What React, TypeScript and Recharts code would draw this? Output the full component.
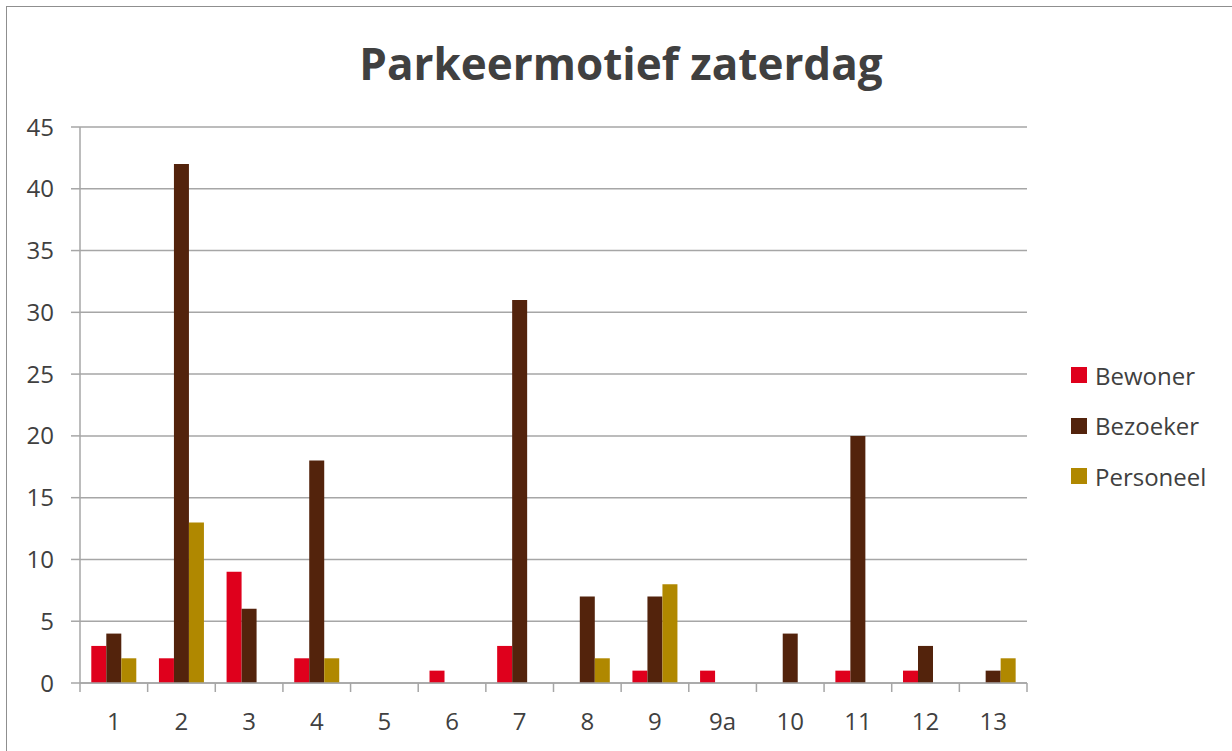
import React from 'react';
import { BarChart, Bar, XAxis, YAxis, CartesianGrid } from 'recharts';

const categories = ['1', '2', '3', '4', '5', '6', '7', '8', '9', '9a', '10', '11', '12', '13'];
const bewoner = [3, 2, 9, 2, 0, 1, 3, 0, 1, 1, 0, 1, 1, 0];
const bezoeker = [4, 42, 6, 18, 0, 0, 31, 7, 7, 0, 4, 20, 3, 1];
const personeel = [2, 13, 0, 2, 0, 0, 0, 2, 8, 0, 0, 0, 0, 2];
const yTicks = [0, 5, 10, 15, 20, 25, 30, 35, 40, 45];
const seriesNames = ['Bewoner', 'Bezoeker', 'Personeel'];
const seriesColors = ['#DF001C', '#53230C', '#B08800'];

const data = categories.map((c, i) => ({
  cat: c,
  Bewoner: bewoner[i],
  Bezoeker: bezoeker[i],
  Personeel: personeel[i],
}));

const W = 1232;
const H = 751;
const MARGIN = { top: 127, right: 205, bottom: 28, left: 0 };
const Y_AXIS_W = 80;
const X_AXIS_H = 40;
const FONT = '"Open Sans", "Noto Sans", sans-serif';
const TEXT = '#404040';
const GRID = '#a6a6a6';
const N = categories.length;
const FALLBACK_HALF_BAND = (W - MARGIN.left - MARGIN.right - Y_AXIS_W) / N / 2;

const XTick = (props: any) => {
  const { x, y, payload, index } = props;
  const half = payload && payload.offset ? payload.offset : FALLBACK_HALF_BAND;
  return (
    <g>
      <line x1={x - half} y1={y} x2={x - half} y2={y + 9} stroke={GRID} strokeWidth={1.5} />
      {index === N - 1 && (
        <line x1={x + half} y1={y} x2={x + half} y2={y + 9} stroke={GRID} strokeWidth={1.5} />
      )}
      <text x={x} y={y + 47} textAnchor="middle" fill={TEXT} fontSize={24} fontFamily={FONT}>
        {payload.value}
      </text>
    </g>
  );
};

export default function App() {
  return (
    <div style={{ position: 'absolute', left: 0, top: 0, width: W, height: H, background: '#fff', overflow: 'hidden' }}>
      <div
        style={{
          position: 'absolute',
          left: 6,
          top: 6,
          width: W + 20,
          height: H + 20,
          border: '1.5px solid #8f8f8f',
          boxSizing: 'border-box',
        }}
      />
      <div
        style={{
          position: 'absolute',
          left: 0,
          top: 41,
          width: 1242,
          textAlign: 'center',
          fontFamily: FONT,
          fontWeight: 700,
          fontSize: 44,
          lineHeight: 1,
          color: TEXT,
        }}
      >
        Parkeermotief zaterdag
      </div>
      <div style={{ position: 'absolute', left: 0, top: 0 }}>
        <BarChart
          width={W}
          height={H}
          data={data}
          margin={MARGIN}
          barCategoryGap="16.7%"
          barGap={0}
        >
          <CartesianGrid vertical={false} stroke={GRID} strokeWidth={1.5} />
          <XAxis
            dataKey="cat"
            height={X_AXIS_H}
            tickLine={false}
            tickSize={0}
            tickMargin={0}
            axisLine={{ stroke: GRID, strokeWidth: 1.5 }}
            tick={<XTick />}
            interval={0}
          />
          <YAxis
            width={Y_AXIS_W}
            domain={[0, 45]}
            ticks={yTicks}
            interval={0}
            tickSize={9}
            tickMargin={17}
            tickLine={{ stroke: GRID, strokeWidth: 1.5 }}
            axisLine={{ stroke: GRID, strokeWidth: 1.5 }}
            tick={{ fill: TEXT, fontSize: 24, fontFamily: FONT }}
          />
          {seriesNames.map((s, i) => (
            <Bar key={s} dataKey={s} fill={seriesColors[i]} isAnimationActive={false} />
          ))}
        </BarChart>
      </div>
      {seriesNames.map((s, i) => (
        <div
          key={s}
          style={{
            position: 'absolute',
            left: 1071,
            top: 375 + i * 50.5 - 16,
            height: 32,
            display: 'flex',
            alignItems: 'center',
            fontFamily: FONT,
            fontSize: 24,
            color: TEXT,
          }}
        >
          <div style={{ width: 16, height: 16, background: seriesColors[i], marginRight: 8 }} />
          <span>{s}</span>
        </div>
      ))}
    </div>
  );
}
